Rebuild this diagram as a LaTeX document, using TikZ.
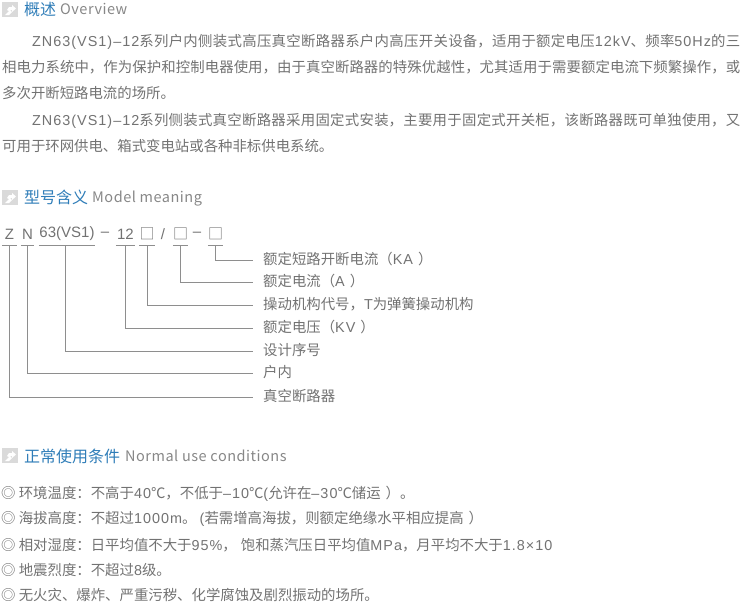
\documentclass[tikz,border=0pt]{standalone}
\usepackage{fontspec}
\setmainfont{Noto Sans CJK SC}
\newfontfamily\latfont[LetterSpace=7]{Liberation Sans}
\newfontfamily\codefont{Liberation Sans}
\newfontfamily\engfont[LetterSpace=3.5]{Noto Sans CJK SC}
\newcommand{\la}[1]{{\latfont #1}}
\usepackage{tikz}
\usetikzlibrary{calc}
\XeTeXlinebreaklocale "zh"
\XeTeXlinebreakskip=0pt plus 1pt
\definecolor{bodygray}{HTML}{727272}
\definecolor{headblue}{HTML}{2F7DB8}
\definecolor{icongray}{HTML}{DADADA}
\tikzset{
	bodytxt/.style={anchor=west, inner sep=0pt, text=bodygray, font=\fontsize{14.4}{26}\selectfont},
	paratxt/.style={bodytxt, anchor=north west, text width=738pt, align=justify},
	headtxt/.style={anchor=west, inner sep=0pt, text=headblue, font=\fontsize{16}{18}\selectfont},
	headeng/.style={anchor=west, inner sep=0pt, text height=11pt, text depth=3pt, text=bodygray!85, font=\fontsize{14.5}{18}\selectfont\engfont},
	codetxt/.style={inner sep=0pt, minimum height=22pt, text=bodygray, font=\fontsize{15}{18}\selectfont\codefont},
	meantxt/.style={bodytxt, inner xsep=10pt, text height=11pt, text depth=3pt},
	leader/.style={draw=bodygray!80, line width=0.7pt},
}
\def\headicon(#1,#2){
	\fill[icongray] (#1, #2) rectangle ++(16, 15);
	\fill[white] ($(#1, #2)+(3, 13)$) -- ++(4, -4) -- ++(-2, -1) -- ++(2, -3) -- ++(3, 0) -- ++(0, -2) -- ++(4, 3.5) -- ++(-4, 3.5) -- ++(0, -2) -- ++(-2, 0) -- ++(2, 2) -- ++(-3, 3) -- cycle;
}
\begin{document}
\begin{tikzpicture}[x=1pt, y=-1pt]
	%%%%% START %%%%%
	\useasboundingbox (0, 0) rectangle (750, 614);

	\headicon(2, 2)
	\node[headtxt] (head1) at (24, 9) {概述};
	\node[headeng] (eng1) at (60, 10) {Overview};

	\node[paratxt] (para1) at (2, 34) {\hspace*{30pt}\la{ZN63(VS1)–12}系列户内侧装式高压真空断路器系户内高压开关设备，适用于额定电压\la{12kV}、频率\la{50Hz}的三\linebreak 相电力系统中，作为保护和控制电器使用，由于真空断路器的特殊优越性，尤其适用于需要额定电流下频繁操作，或\linebreak 多次开断短路电流的场所。};
	\node[paratxt] (para2) at (2, 113) {\hspace*{30pt}\la{ZN63(VS1)–12}系列侧装式真空断路器采用固定式安装，主要用于固定式开关柜，该断路器既可单独使用，又\linebreak 可用于环网供电、箱式变电站或各种非标供电系统。};

	\headicon(2, 190)
	\node[headtxt] (head2) at (24, 197) {型号含义};
	\node[headeng] (eng2) at (92, 198) {Model meaning};

	% model code
	\node[codetxt, minimum width=14pt] (z) at (9.5, 234) {Z};
	\node[codetxt, minimum width=13pt] (n) at (27.5, 234) {N};
	\node[codetxt, minimum width=56pt] (vs) at (67, 234) {63(VS1)};
	\node[codetxt] (dash1) at (105, 234) {–};
	\node[codetxt, minimum width=19pt] (kv) at (125.5, 234) {12};
	\node[codetxt, minimum width=12pt] (box1) at (147, 234) {\rmfamily □};
	\node[codetxt] (slash) at (163, 234) {/};
	\node[codetxt, minimum width=13pt] (box2) at (180.5, 234) {\rmfamily □};
	\node[codetxt] (dash2) at (197, 234) {–};
	\node[codetxt, minimum width=13pt] (box3) at (215.5, 234) {\rmfamily □};

	\foreach \n in {z, n, vs, kv, box1, box2, box3}
		\draw[leader] (\n.south west) -- (\n.south east);

	% meanings
	\node[meantxt] (m1) at (253, 260) {额定短路开断电流（\la{KA}\hspace{5pt}）};
	\node[meantxt] (m2) at (253, 282) {额定电流（\la{A}\hspace{5pt}）};
	\node[meantxt] (m3) at (253, 305) {操动机构代号，\la{T}为弹簧操动机构};
	\node[meantxt] (m4) at (253, 328) {额定电压（\la{KV}\hspace{5pt}）};
	\node[meantxt] (m5) at (253, 351) {设计序号};
	\node[meantxt] (m6) at (253, 373) {户内};
	\node[meantxt] (m7) at (253, 397) {真空断路器};

	\draw[leader] (box3.south) |- (m1.west);
	\draw[leader] (box2.south) |- (m2.west);
	\draw[leader] (box1.south) |- (m3.west);
	\draw[leader] (kv.south) |- (m4.west);
	\draw[leader] ([xshift=-2pt]vs.south) |- (m5.west);
	\draw[leader] (n.south) |- (m6.west);
	\draw[leader] (z.south) |- (m7.west);

	\headicon(2, 448)
	\node[headtxt] (head3) at (24, 456) {正常使用条件};
	\node[headeng] (eng3) at (125, 457) {Normal use conditions};

	\node[bodytxt] (use1) at (1, 494) {◎ 环境温度：不高于\la{40}℃，不低于\la{–10}℃\la{(}允许在\la{–30}℃储运\hspace{5pt}）。};
	\node[bodytxt] (use2) at (1, 519) {◎ 海拔高度：不超过\la{1000m}。 \la{(}若需增高海拔，则额定绝缘水平相应提高\hspace{5pt}）};
	\node[bodytxt] (use3) at (1, 545) {◎ 相对湿度：日平均值不大于\la{95\%}，\hspace{4pt}饱和蒸汽压日平均值\la{MPa}，月平均不大于\la{1.8\hspace{1pt}×\hspace{1pt}10}};
	\node[bodytxt] (use4) at (1, 570) {◎ 地震烈度：不超过\la{8}级。};
	\node[bodytxt] (use5) at (1, 595) {◎ 无火灾、爆炸、严重污秽、化学腐蚀及剧烈振动的场所。};
	%%%%% END %%%%%
\end{tikzpicture}
\end{document}
